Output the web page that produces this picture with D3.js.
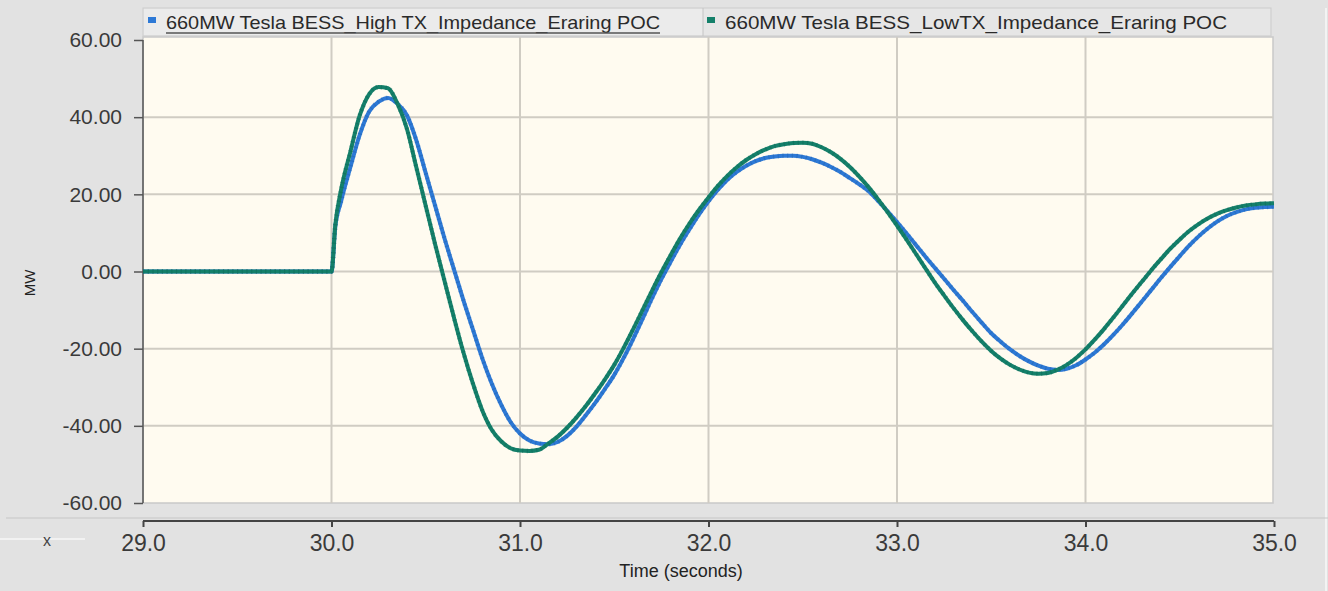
<!DOCTYPE html>
<html>
<head>
<meta charset="utf-8">
<script src="https://cdn.jsdelivr.net/npm/d3@7"></script>
<style>
  body { margin: 0; background: #e2e2e2; }
  svg { display: block; font-family: "Liberation Sans", Arial, sans-serif; }
</style>
</head>
<body>
<script>
// time axis (seconds)
var times = [29.0, 30.0, 30.02,
  30.05, 30.10, 30.15, 30.20, 30.25, 30.30, 30.35, 30.40, 30.45, 30.50,
  30.55, 30.60, 30.65, 30.70, 30.75, 30.80, 30.85, 30.90, 30.95, 31.00,
  31.05, 31.10, 31.15, 31.20, 31.25, 31.30, 31.35, 31.40, 31.45, 31.50,
  31.55, 31.60, 31.65, 31.70, 31.75, 31.80, 31.85, 31.90, 31.95, 32.00,
  32.05, 32.10, 32.15, 32.20, 32.25, 32.30, 32.35, 32.40, 32.45, 32.50,
  32.55, 32.60, 32.65, 32.70, 32.75, 32.80, 32.85, 32.90, 32.95, 33.00,
  33.05, 33.10, 33.15, 33.20, 33.25, 33.30, 33.35, 33.40, 33.45, 33.50,
  33.55, 33.60, 33.65, 33.70, 33.75, 33.80, 33.85, 33.90, 33.95, 34.00,
  34.05, 34.10, 34.15, 34.20, 34.25, 34.30, 34.35, 34.40, 34.45, 34.50,
  34.55, 34.60, 34.65, 34.70, 34.75, 34.80, 34.85, 34.90, 34.95, 35.00];

// 660MW Tesla BESS_High TX_Impedance_Eraring POC (MW)
var highTx = [0, 0, 11.5,
  18, 27, 35.5, 41.5, 44, 45, 43.5, 40.5, 34, 25.5,
  17, 8.5, 0.5, -7.5, -15, -22.5, -29, -34.5, -39, -42,
  -43.8, -44.6, -44.8, -44.2, -42.6, -40.2, -37.2, -34, -30.5, -26.8,
  -22.4, -17.5, -12.3, -7, -2, 2.6, 7, 11, 14.8, 18.2,
  21.2, 23.8, 25.8, 27.4, 28.6, 29.4, 29.8, 30, 30, 29.7,
  29.1, 28.2, 27.1, 25.8, 24.2, 22.6, 20.8, 18.3, 15.6, 12.8,
  9.9, 6.9, 3.9, 1, -1.9, -4.8, -7.6, -10.5, -13.3, -16,
  -18.2, -20.2, -21.9, -23.3, -24.4, -25.2, -25.5, -25.2, -24.3, -22.8,
  -21, -18.8, -16.3, -13.6, -10.7, -7.7, -4.7, -1.7, 1.2, 4,
  6.7, 9.1, 11.2, 13, 14.4, 15.4, 16.1, 16.5, 16.7, 16.8];

// 660MW Tesla BESS_LowTX_Impedance_Eraring POC (MW)
var lowTx = [0, 0, 12,
  21, 31, 40.5, 46, 47.8, 47.5, 43.5, 37, 27, 17,
  7, -2.5, -12, -21, -29, -36, -41, -44, -45.8, -46.4,
  -46.5, -46.2, -44.6, -42.8, -40.5, -37.8, -34.8, -31.5, -28, -24.2,
  -19.8, -15, -10, -5, -0.2, 4.3, 8.6, 12.5, 16, 19.2,
  22.2, 24.8, 27, 28.9, 30.4, 31.6, 32.5, 33, 33.3, 33.4,
  33.1, 32.2, 30.9, 29.2, 27.1, 24.6, 21.8, 18.7, 15.4, 11.9,
  8.3, 4.6, 0.9, -2.8, -6.2, -9.5, -12.6, -15.5, -18.2, -20.6,
  -22.6, -24.2, -25.4, -26.2, -26.5, -26.3, -25.5, -24.2, -22.4, -20.2,
  -17.6, -14.8, -11.8, -8.7, -5.6, -2.6, 0.4, 3.2, 5.9, 8.3,
  10.5, 12.3, 13.8, 15, 15.9, 16.6, 17.1, 17.4, 17.6, 17.7];

var seriesNames = ["660MW Tesla BESS_High TX_Impedance_Eraring POC",
                   "660MW Tesla BESS_LowTX_Impedance_Eraring POC"];
var seriesColors = ["#2d79d6", "#14806a"];
var xTicks = [29, 30, 31, 32, 33, 34, 35];
var yTicks = [60, 40, 20, 0, -20, -40, -60];

var width = 1328, height = 591;
var plotL = 143, plotR = 1274, plotT = 40, plotB = 503;

var svg = d3.select("body").append("svg")
    .attr("width", width)
    .attr("height", height);

var x = d3.scaleLinear().domain([29, 35]).range([plotL, plotR]);
var y = d3.scaleLinear().domain([-60, 60]).range([plotB, plotT]);

// plain hyphen for negatives, as in the source chart
var fmt2 = function(d) { return d3.format(".2f")(d).replace("\u2212", "-"); };

// faint frame lines
svg.append("line").attr("x1", 1326).attr("x2", 1326).attr("y1", 8).attr("y2", height)
    .attr("stroke", "#f3f3f3").attr("stroke-width", 2);

// plot background
svg.append("rect")
    .attr("x", plotL).attr("y", plotT - 3)
    .attr("width", plotR - plotL - 1).attr("height", plotB - plotT + 3)
    .attr("fill", "#fffbf0")
    .attr("stroke", "#c9c9c9").attr("stroke-width", 1.5);

// grid
svg.append("g").selectAll("line")
    .data(xTicks.slice(1, -1))
    .enter().append("line")
    .attr("x1", function(d) { return x(d); })
    .attr("x2", function(d) { return x(d); })
    .attr("y1", plotT - 3).attr("y2", plotB)
    .attr("stroke", "#d0ccc3").attr("stroke-width", 2);

svg.append("g").selectAll("line")
    .data(yTicks.slice(1, -1))
    .enter().append("line")
    .attr("x1", plotL).attr("x2", plotR - 1)
    .attr("y1", function(d) { return y(d); })
    .attr("y2", function(d) { return y(d); })
    .attr("stroke", "#d0ccc3").attr("stroke-width", 2);

// y axis
var yAxis = svg.append("g")
    .attr("transform", "translate(" + plotL + ",0)")
    .call(d3.axisLeft(y).tickValues(yTicks).tickSize(9).tickPadding(12)
        .tickFormat(fmt2));
yAxis.select(".domain").attr("stroke", "#555").attr("stroke-width", 1.5)
    .attr("d", "M0," + plotT + "V" + plotB);
yAxis.selectAll(".tick line").attr("stroke", "#555").attr("stroke-width", 1.5);
yAxis.selectAll(".tick text")
    .attr("font-size", 21)
    .attr("fill", "#3a3a3a")
    .attr("font-family", "Liberation Sans, Arial, sans-serif");

svg.append("text")
    .attr("transform", "translate(35,283) rotate(-90)")
    .attr("text-anchor", "middle")
    .attr("font-size", 15)
    .attr("fill", "#222")
    .text("MW");

// bottom panel separator
svg.append("line").attr("x1", 6).attr("x2", width).attr("y1", 518).attr("y2", 518)
    .attr("stroke", "#c6c6c6").attr("stroke-width", 1);
svg.append("line").attr("x1", 0).attr("x2", 85).attr("y1", 539).attr("y2", 539)
    .attr("stroke", "#f7f7f7").attr("stroke-width", 1.5);
svg.append("text")
    .attr("x", 47).attr("y", 546)
    .attr("text-anchor", "middle")
    .attr("font-size", 16)
    .attr("fill", "#444")
    .text("x");

// x axis
var xAxis = svg.append("g")
    .attr("transform", "translate(0,521)")
    .call(d3.axisBottom(x).tickValues(xTicks).tickSize(6).tickPadding(8)
        .tickFormat(d3.format(".1f")));
xAxis.select(".domain").attr("stroke", "#444").attr("stroke-width", 2)
    .attr("d", "M" + plotL + ",0H" + plotR);
xAxis.selectAll(".tick line").attr("stroke", "#444").attr("stroke-width", 2);
xAxis.selectAll(".tick text")
    .attr("font-size", 23)
    .attr("fill", "#3a3a3a")
    .attr("font-family", "Liberation Sans, Arial, sans-serif");

svg.append("text")
    .attr("x", 681).attr("y", 577)
    .attr("text-anchor", "middle")
    .attr("font-size", 18)
    .attr("fill", "#222")
    .text("Time (seconds)");

// lines
var series = [highTx, lowTx];
var line = d3.line()
    .x(function(d, i) { return x(times[i]); })
    .y(function(d) { return y(d); })
    .curve(d3.curveMonotoneX);

series.forEach(function(s, k) {
    svg.append("path")
        .datum(s)
        .attr("fill", "none")
        .attr("stroke", seriesColors[k])
        .attr("stroke-width", 4)
        .attr("d", line);
    svg.append("path")
        .datum(s)
        .attr("fill", "none")
        .attr("stroke", d3.color(seriesColors[k]).darker(0.6))
        .attr("stroke-width", 4.5)
        .attr("stroke-dasharray", "1.2 3.5")
        .attr("opacity", 0.45)
        .attr("d", line);
});

// legend bar
var legend = svg.append("g");
legend.append("rect")
    .attr("x", plotL).attr("y", 8)
    .attr("width", 1271 - plotL).attr("height", 28)
    .attr("fill", "#e6e6e6")
    .attr("stroke", "#cbcbcb");
legend.append("rect")
    .attr("x", plotL + 1).attr("y", 9)
    .attr("width", 703 - plotL - 1).attr("height", 26)
    .attr("fill", "#ebebeb");
legend.append("line")
    .attr("x1", 703).attr("x2", 703).attr("y1", 8).attr("y2", 36)
    .attr("stroke", "#c4c4c4");

var legendX = [148, 707];
var legendW = [494, 502];
seriesNames.forEach(function(name, k) {
    legend.append("rect")
        .attr("x", legendX[k]).attr("y", 17)
        .attr("width", 8).attr("height", 6)
        .attr("fill", seriesColors[k]);
    legend.append("text")
        .attr("x", legendX[k] + 18).attr("y", 29)
        .attr("font-size", 19)
        .attr("fill", "#2a2a2a")
        .attr("textLength", legendW[k])
        .attr("lengthAdjust", "spacingAndGlyphs")
        .text(name);
});
legend.append("line")
    .attr("x1", 166).attr("x2", 660).attr("y1", 33).attr("y2", 33)
    .attr("stroke", "#555").attr("stroke-width", 1.5);
</script>
</body>
</html>
